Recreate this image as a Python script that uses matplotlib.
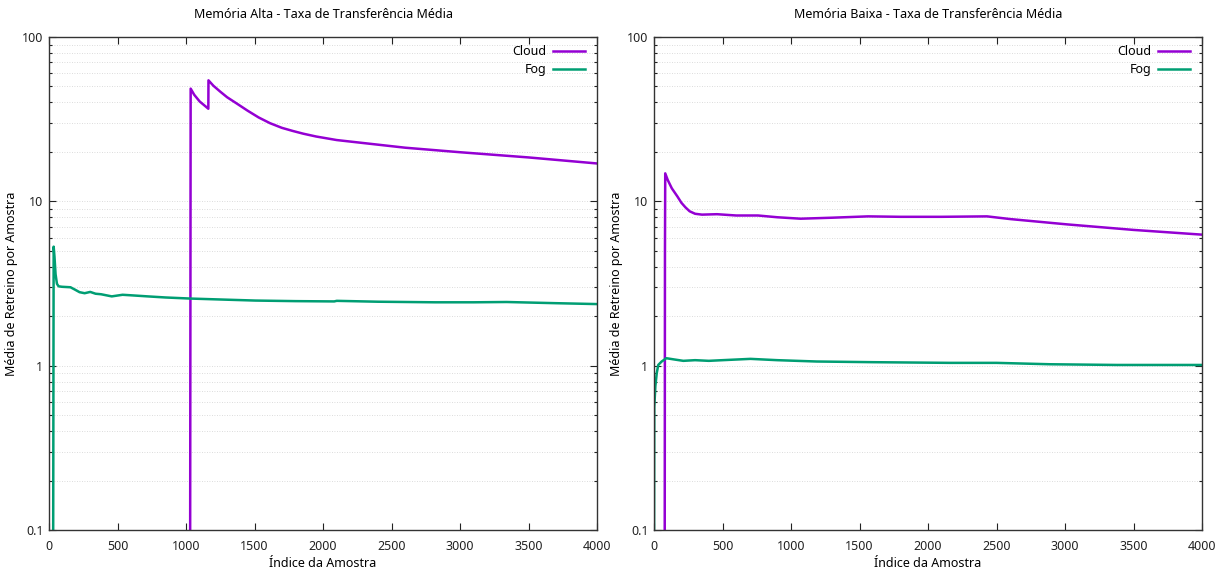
import matplotlib
matplotlib.use('Agg')
import matplotlib.pyplot as plt
from matplotlib.ticker import FixedLocator, FuncFormatter, NullFormatter

plt.rcParams['font.family'] = ['Noto Sans', 'DejaVu Sans']
fontSize = 9.0

# Memória Alta
altaCloudX = [1030, 1034, 1060, 1100, 1135, 1163, 1164, 1200, 1250, 1300, 1370, 1450, 1530,
              1613, 1700, 1780, 1856, 1950, 2100, 2343, 2600, 3000, 3500, 4000]
altaCloudY = [0.05, 48.5, 44.5, 40.5, 38.3, 36.6, 54.5, 50.5, 46.5, 43.0, 39.4, 35.6, 32.4,
              29.9, 28.0, 26.8, 25.8, 24.8, 23.6, 22.4, 21.2, 19.9, 18.5, 17.0]
altaFogX = [30, 34, 40, 48, 58, 70, 95, 157, 190, 223, 260, 301, 340, 380, 458, 537, 600, 720,
            850, 1035, 1300, 1506, 1800, 2082, 2100, 2400, 2816, 3100, 3340, 3700, 4000]
altaFogY = [0.05, 5.3, 4.6, 3.6, 3.15, 3.04, 3.02, 3.0, 2.9, 2.8, 2.76, 2.81, 2.74, 2.72, 2.64,
            2.70, 2.68, 2.64, 2.60, 2.56, 2.52, 2.49, 2.47, 2.46, 2.48, 2.45, 2.43, 2.43, 2.44,
            2.40, 2.37]

# Memória Baixa
baixaCloudX = [78, 80, 82, 100, 130, 171, 200, 229, 260, 300, 350, 460, 600, 759, 900, 1070,
               1300, 1562, 1800, 2100, 2431, 2600, 3015, 3500, 4000]
baixaCloudY = [0.05, 4.9, 14.8, 13.5, 12.0, 10.7, 9.8, 9.2, 8.7, 8.4, 8.3, 8.35, 8.2, 8.2, 8.0,
               7.84, 7.95, 8.1, 8.05, 8.05, 8.1, 7.8, 7.24, 6.7, 6.27]
baixaFogX = [0, 2, 10, 20, 31, 56, 90, 150, 214, 300, 400, 500, 704, 900, 1187, 1600, 2161,
             2500, 2891, 3377, 3600, 4000]
baixaFogY = [0.05, 0.56, 0.75, 0.90, 1.01, 1.06, 1.11, 1.09, 1.07, 1.08, 1.07, 1.08, 1.10, 1.08,
             1.06, 1.05, 1.04, 1.04, 1.02, 1.01, 1.01, 1.01]

cloudColor = '#9400D3'
fogColor = '#009E73'


def styleAxes(ax, title):
    ax.set_yscale('log')
    ax.set_xlim(0, 4000)
    ax.set_ylim(0.1, 100)
    ax.set_title(title, fontsize=fontSize, pad=14)
    ax.set_xlabel('Índice da Amostra', fontsize=fontSize, labelpad=3)
    ax.set_ylabel('Média de Retreino por Amostra', fontsize=fontSize, labelpad=3)
    ax.xaxis.set_major_locator(FixedLocator(range(0, 4001, 500)))
    ax.yaxis.set_major_locator(FixedLocator([0.1, 1, 10, 100]))
    minors = [m * d for d in (0.1, 1, 10) for m in range(2, 10)]
    ax.yaxis.set_minor_locator(FixedLocator(minors))
    ax.yaxis.set_major_formatter(FuncFormatter(lambda v, p: '%g' % v))
    ax.yaxis.set_minor_formatter(NullFormatter())
    ax.tick_params(which='both', direction='in', top=True, right=True, labelsize=fontSize,
                   colors='#222222')
    ax.tick_params(axis='x', pad=7)
    ax.tick_params(axis='y', pad=4)
    ax.tick_params(which='major', length=5, width=0.8)
    ax.tick_params(which='minor', length=2.5, width=0.8)
    ax.grid(axis='y', which='both', linestyle=(0, (1, 2)), color='#d0d0d0', linewidth=0.6)
    for s in ax.spines.values():
        s.set_linewidth(1.0)
        s.set_color('#333333')
    ax.legend(loc='upper right', bbox_to_anchor=(1 - 12 / 548, 1 - 8 / 493), frameon=False,
              markerfirst=False, fontsize=fontSize, handlelength=2.6, handletextpad=0.5,
              borderaxespad=0.0, labelspacing=0.4, borderpad=0.0)


fig = plt.figure(figsize=(12.29, 5.74), dpi=100)
axLeft = fig.add_axes([49 / 1229, 44 / 574, 548 / 1229, 493 / 574])
axRight = fig.add_axes([654 / 1229, 44 / 574, 548 / 1229, 493 / 574])

axLeft.plot(altaCloudX, altaCloudY, color=cloudColor, linewidth=1.8, label='Cloud')
axLeft.plot(altaFogX, altaFogY, color=fogColor, linewidth=1.8, label='Fog')
styleAxes(axLeft, 'Memória Alta - Taxa de Transferência Média')

axRight.plot(baixaCloudX, baixaCloudY, color=cloudColor, linewidth=1.8, label='Cloud')
axRight.plot(baixaFogX, baixaFogY, color=fogColor, linewidth=1.8, label='Fog')
styleAxes(axRight, 'Memória Baixa - Taxa de Transferência Média')

fig.savefig('out.png', dpi=100)
plt.close(fig)
